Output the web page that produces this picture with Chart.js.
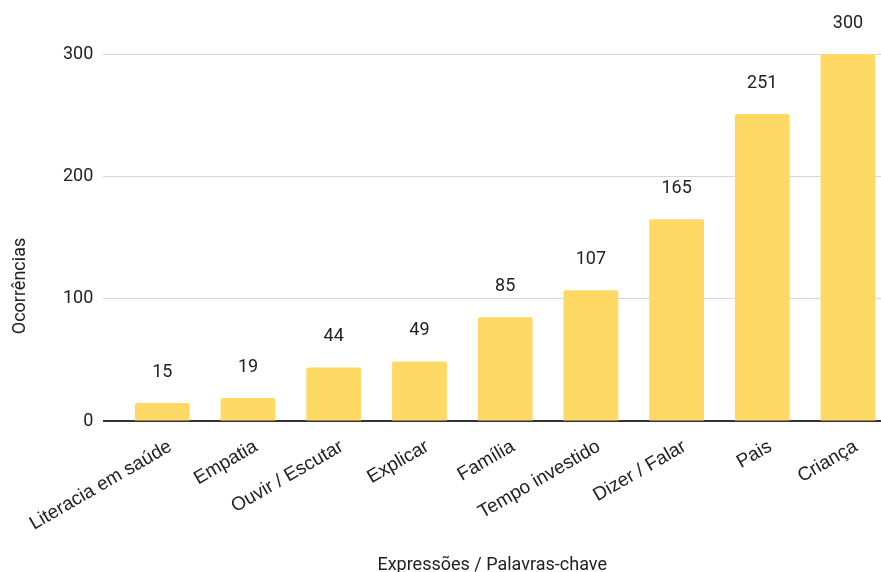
<!DOCTYPE html>
<html>
<head>
    <meta charset="utf-8">
    <title>Ocorrências</title>
    <script src="https://cdn.jsdelivr.net/npm/chart.js"></script>
    <style>
        body { margin: 0; background: #fff; overflow: hidden; }
        #wrap { width: 881px; height: 572px; position: relative; }
    </style>
</head>
<body>
    <div id="wrap"><canvas id="barChart"></canvas></div>

    <script>
    const categorias = ['Literacia em saúde', 'Empatia', 'Ouvir / Escutar', 'Explicar', 'Família',
        'Tempo investido', 'Dizer / Falar', 'Pais', 'Criança'];
    const ocorrencias = [15, 19, 44, 49, 85, 107, 165, 251, 300];
    const yTicks = [0, 100, 200, 300];

    // valores por cima das barras
    const rotulos = {
        id: 'rotulos',
        afterDatasetsDraw(chart) {
            const ctx = chart.ctx;
            const meta = chart.getDatasetMeta(0);
            ctx.save();
            ctx.font = '18px Roboto';
            ctx.fillStyle = '#222';
            ctx.textAlign = 'center';
            ctx.textBaseline = 'middle';
            meta.data.forEach((bar, i) => {
                ctx.fillText(String(ocorrencias[i]), bar.x, bar.y - 31);
            });
            ctx.restore();
        }
    };

    // título do eixo Y centrado na altura total
    const tituloY = {
        id: 'tituloY',
        afterDraw(chart) {
            const ctx = chart.ctx;
            ctx.save();
            ctx.translate(20, chart.height / 2);
            ctx.rotate(-Math.PI / 2);
            ctx.font = '18px Roboto';
            ctx.fillStyle = '#222';
            ctx.textAlign = 'center';
            ctx.textBaseline = 'middle';
            ctx.fillText('Ocorrências', 0, 0);
            ctx.restore();
        }
    };

    new Chart(document.getElementById('barChart'), {
        type: 'bar',
        data: {
            datasets: [{
                label: 'Ocorrências',
                data: ocorrencias.map((v, i) => ({ x: i, y: v })),
                backgroundColor: '#ffd966',
                borderRadius: { topLeft: 2, topRight: 2 },
                borderSkipped: 'bottom',
                categoryPercentage: 0.8,
                barPercentage: 0.8
            }]
        },
        options: {
            responsive: true,
            maintainAspectRatio: false,
            animation: false,
            layout: { padding: { left: 53, top: 54, right: 0, bottom: 0 } },
            plugins: {
                legend: { display: false },
                tooltip: { enabled: false }
            },
            scales: {
                x: {
                    type: 'linear',
                    offset: false,
                    min: -0.688,
                    max: 8.385,
                    afterBuildTicks: s => { s.ticks = categorias.map((_, i) => ({ value: i })); },
                    afterFit: s => { s.paddingLeft = 0; s.paddingRight = 0; },
                    grid: { display: false, offset: false },
                    border: { display: false },
                    ticks: {
                        autoSkip: false,
                        minRotation: 30,
                        maxRotation: 30,
                        padding: 6,
                        labelOffset: 8,
                        font: { family: 'Liberation Sans', size: 19 },
                        color: '#222',
                        callback: v => categorias[v]
                    },
                    title: {
                        display: true,
                        text: 'Expressões / Palavras-chave',
                        font: { family: 'Roboto', size: 18 },
                        color: '#222',
                        padding: { top: 13, bottom: -4 }
                    }
                },
                y: {
                    min: 0,
                    max: 300,
                    afterBuildTicks: s => { s.ticks = yTicks.map(v => ({ value: v })); },
                    border: { display: false },
                    grid: {
                        drawTicks: false,
                        color: c => c.tick && c.tick.value === 0 ? '#333' : '#d6d6d6',
                        lineWidth: c => c.tick && c.tick.value === 0 ? 2 : 1
                    },
                    ticks: {
                        padding: 10,
                        font: { family: 'Roboto', size: 18 },
                        color: '#222'
                    }
                }
            }
        },
        plugins: [rotulos, tituloY]
    });
    </script>
</body>
</html>
